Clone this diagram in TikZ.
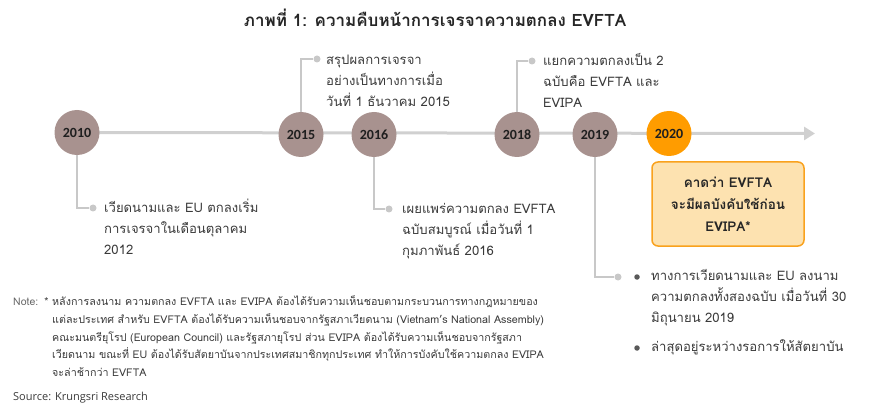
\documentclass[tikz,border=0pt]{standalone}
\usepackage{fontspec}
\setmainfont[Script=Thai]{Loma}
\newfontfamily\yearfont{Carlito}
\newfontfamily\srcfont{Open Sans}
\usetikzlibrary{arrows.meta,backgrounds}
\definecolor{taupe}{HTML}{A8928F}
\definecolor{orng}{HTML}{FF9C00}
\definecolor{lgray}{HTML}{D0D0D0}
\definecolor{cgray}{HTML}{C8C8C8}
\definecolor{txt}{HTML}{3A3A3A}
\definecolor{boxfill}{HTML}{FDE2B0}
\definecolor{boxline}{HTML}{F9A21E}
\definecolor{bul}{HTML}{595959}
\begin{document}
\begin{tikzpicture}[x=1pt,y=-1pt,
  yearnode/.style={circle, minimum size=45pt, inner sep=0pt, fill=taupe,
    font=\yearfont\bfseries\fontsize{14}{16}\selectfont, text=black!88},
  conn/.style={draw=cgray, line width=1.8pt},
  enddot/.style={circle, fill=cgray, inner sep=0pt, minimum size=7pt},
  bulletdot/.style={circle, fill=bul, inner sep=0pt, minimum size=5.5pt},
  body/.style={anchor=north west, inner sep=0pt, align=left, text=txt,
    font=\fontsize{13.1}{21}\selectfont},
  notebody/.style={anchor=north west, inner sep=0pt, align=left, text=txt,
    font=\fontsize{10.7}{17.8}\selectfont}]
\useasboundingbox (0,0) rectangle (870,414);

% title
\node[font=\bfseries\fontsize{17}{19}\selectfont, text=black!85] (title) at (435,18)
  {ภาพที่ 1: ความคืบหน้าการเจรจาความตกลง EVFTA};

% year circles
\node[yearnode] (y2010) at (77,132.5) {2010};
\node[yearnode] (y2015) at (301,134.5) {2015};
\node[yearnode] (y2016) at (374,134.5) {2016};
\node[yearnode] (y2018) at (517,134.5) {2018};
\node[yearnode] (y2019) at (595,134.5) {2019};
\node[yearnode, fill=orng] (y2020) at (669,133.5) {2020};
\coordinate (tip) at (815,133.5);

\begin{scope}[on background layer]
  \draw[line width=3pt, draw=lgray, -{Triangle[length=11pt,width=13pt]}] (y2010.center) -- (tip);
\end{scope}

% 2015
\node[enddot] (d2015) at (317,59) {};
\draw[conn] (y2015.north) |- (d2015);
\node[body] (t2015) at (326,49.6) {\strut สรุปผลการเจรจา\\อย่างเป็นทางการเมื่อ\\วันที่ 1 ธันวาคม 2015};

% 2018
\node[enddot] (d2018) at (532,61) {};
\draw[conn] (y2018.north) |- (d2018);
\node[body] (t2018) at (543,51.1) {\strut แยกความตกลงเป็น 2\\ฉบับคือ EVFTA และ\\EVIPA};

% 2010
\node[enddot] (d2010) at (93,208) {};
\draw[conn] (y2010.south) |- (d2010);
\node[body] (t2010) at (104,197.6) {\strut เวียดนามและ EU ตกลงเริ่ม\\การเจรจาในเดือนตุลาคม\\2012};

% 2016
\node[enddot] (d2016) at (389,209) {};
\draw[conn] (y2016.south) |- (d2016);
\node[body] (t2016) at (402,198.6) {\strut เผยแพร่ความตกลง EVFTA\\ฉบับสมบูรณ์ เมื่อวันที่ 1\\กุมภาพันธ์ 2016};

% 2019
\node[enddot] (d2019) at (618,277) {};
\draw[conn] (y2019.south) |- (d2019);
\node[bulletdot] (b1) at (637,277) {};
\node[bulletdot] (b2) at (637,348) {};
\node[body] (t2019a) at (651,266) {\strut ทางการเวียดนามและ EU ลงนาม\\ความตกลงทั้งสองฉบับ เมื่อวันที่ 30\\มิถุนายน 2019};
\node[body] (t2019b) at (651,337) {\strut ล่าสุดอยู่ระหว่างรอการให้สัตยาบัน};

% 2020 box
\node[draw=boxline, fill=boxfill, rounded corners=6pt, line width=1.5pt,
  minimum width=152pt, minimum height=84pt, align=center, text=black!85,
  font=\bfseries\fontsize{13.5}{22}\selectfont] (box) at (728,204)
  {คาดว่า EVFTA\\จะมีผลบังคับใช้ก่อน\\EVIPA*};

% note
\node[anchor=north west, inner sep=0pt, text=black!60, font=\fontsize{10.5}{17.8}\selectfont] (notelbl) at (13,292.8) {\strut Note:};
\node[notebody] (note) at (52,292.8) {\strut\llap{* }หลังการลงนาม ความตกลง EVFTA และ EVIPA ต้องได้รับความเห็นชอบตามกระบวนการทางกฎหมายของ\\
แต่ละประเทศ สำหรับ EVFTA ต้องได้รับความเห็นชอบจากรัฐสภาเวียดนาม (Vietnam's National Assembly)\\
คณะมนตรียุโรป (European Council)  และรัฐสภายุโรป ส่วน EVIPA ต้องได้รับความเห็นชอบจากรัฐสภา\\
เวียดนาม ขณะที่ EU ต้องได้รับสัตยาบันจากประเทศสมาชิกทุกประเทศ ทำให้การบังคับใช้ความตกลง EVIPA\\
จะล่าช้ากว่า EVFTA};

\node[anchor=west, inner sep=0pt, text=txt, font=\srcfont\fontsize{11}{13}\selectfont] (src) at (13,398) {Source: Krungsri Research};
\end{tikzpicture}
\end{document}
